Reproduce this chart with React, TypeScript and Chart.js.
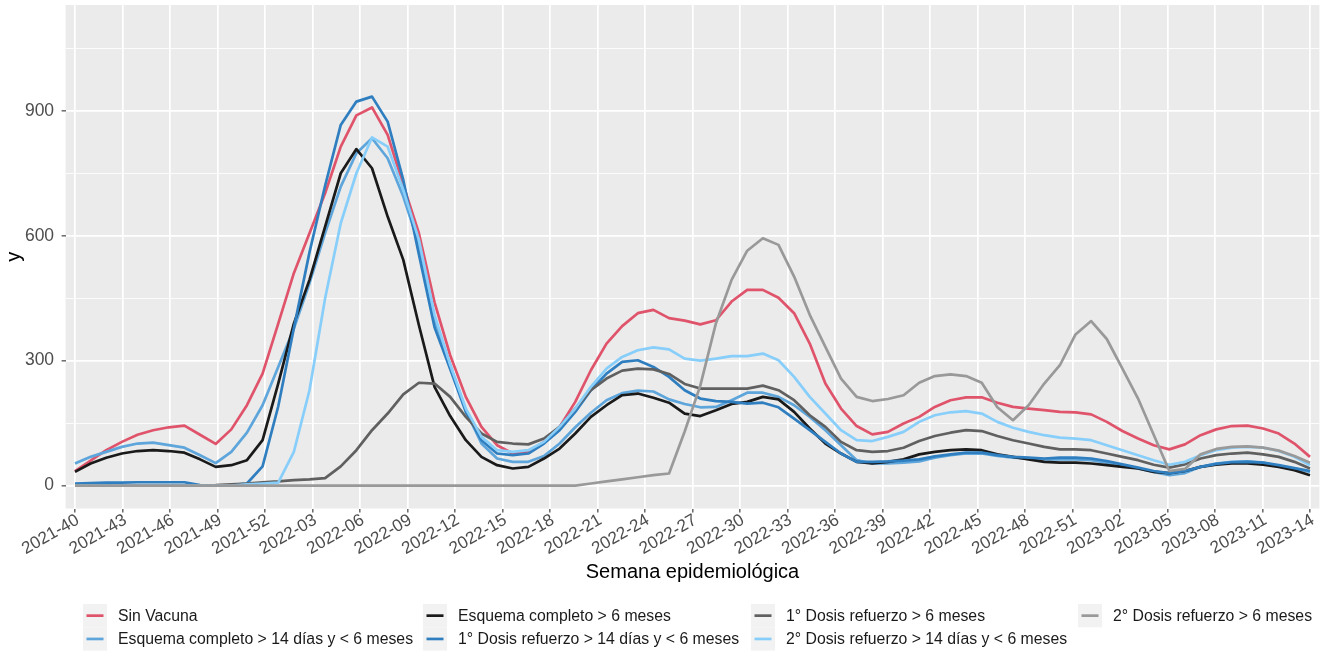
import React, { useEffect, useRef } from "react";
import { Chart, registerables } from "chart.js";

Chart.register(...registerables);

// ---- Data ----
const xTickLabels = [
  "2021-40", "2021-43", "2021-46", "2021-49", "2021-52", "2022-03", "2022-06",
  "2022-09", "2022-12", "2022-15", "2022-18", "2022-21", "2022-24", "2022-27",
  "2022-30", "2022-33", "2022-36", "2022-39", "2022-42", "2022-45", "2022-48",
  "2022-51", "2023-02", "2023-05", "2023-08", "2023-11", "2023-14",
];

const yMajorTicks = [0, 300, 600, 900];

const sinVacuna = [
  35, 60, 85, 105, 122, 133, 140, 144, 122, 100,
  135, 193, 269, 389, 510, 606, 702, 814, 889, 908,
  842, 722, 606, 440, 313, 213, 141, 97, 77, 81,
  105, 141, 201, 277, 341, 383, 414, 422, 402, 396,
  387, 397, 442, 470, 470, 451, 414, 341, 245, 185,
  143, 123, 129, 149, 165, 189, 205, 212, 212, 199,
  189, 185, 181, 177, 176, 171, 153, 131, 113, 97,
  87, 99, 121, 135, 143, 144, 137, 125, 101, 69,
];

const esquema14d = [
  53, 69, 81, 93, 101, 103, 97, 91, 73, 54,
  81, 127, 193, 285, 377, 486, 606, 718, 798, 834,
  786, 694, 580, 400, 290, 180, 101, 65, 57, 57,
  71, 101, 140, 175, 205, 222, 228, 226, 207, 196,
  188, 189, 205, 223, 223, 213, 193, 165, 133, 97,
  61, 53, 53, 55, 58, 67, 73, 77, 77, 71,
  67, 65, 63, 63, 63, 61, 55, 49, 41, 33,
  25, 30, 45, 53, 57, 58, 55, 47, 41, 33,
];

const esquema6m = [
  33, 53, 67, 77, 83, 85, 83, 79, 63, 45,
  49, 61, 109, 245, 389, 494, 622, 750, 808, 762,
  646, 542, 385, 237, 167, 109, 69, 49, 41, 45,
  65, 89, 125, 165, 193, 217, 221, 211, 199, 173,
  167, 181, 196, 201, 213, 207, 177, 137, 101, 77,
  57, 53, 57, 63, 75, 81, 85, 87, 85, 75,
  69, 63, 57, 55, 55, 53, 49, 45, 41, 33,
  30, 35, 45, 50, 53, 53, 50, 45, 37, 25,
];

const refuerzo1_14d = [
  5, 6, 7, 7, 8, 8, 8, 8, 1, 0,
  1, 5, 46, 190, 378, 560, 720, 866, 922, 934,
  874, 734, 555, 380, 280, 177, 109, 77, 73, 77,
  101, 133, 177, 229, 269, 297, 301, 285, 261, 229,
  209, 203, 201, 197, 199, 188, 161, 133, 105, 77,
  57, 57, 58, 60, 63, 70, 75, 79, 79, 73,
  69, 67, 65, 67, 67, 65, 59, 51, 43, 35,
  30, 35, 45, 52, 56, 57, 55, 49, 42, 35,
];

const refuerzo1_6m = [
  0, 0, 0, 0, 0, 0, 0, 0, 0, 1,
  3, 5, 8, 10, 13, 15, 18, 46, 85, 133,
  173, 219, 247, 245, 213, 165, 125, 105, 101, 99,
  113, 141, 185, 229, 257, 276, 281, 279, 268, 244,
  233, 233, 233, 233, 240, 229, 205, 169, 141, 105,
  85, 81, 83, 91, 107, 119, 127, 133, 131, 119,
  109, 101, 93, 87, 87, 85, 77, 69, 61, 50,
  43, 51, 65, 73, 77, 79, 75, 69, 57, 41,
];

const refuerzo2_14d = [
  0, 0, 0, 0, 0, 0, 0, 0, 0, 0,
  0, 3, 5, 7, 81, 229, 450, 630, 750, 836,
  814, 710, 590, 410, 290, 185, 117, 85, 81, 85,
  105, 141, 185, 237, 281, 309, 325, 332, 327, 305,
  300, 305, 311, 311, 317, 301, 261, 213, 173, 133,
  109, 107, 117, 129, 153, 169, 176, 179, 173, 153,
  139, 129, 121, 115, 113, 109, 97, 85, 73, 61,
  50, 57, 73, 85, 91, 93, 91, 83, 69, 49,
];

const refuerzo2_6m = [
  0, 0, 0, 0, 0, 0, 0, 0, 0, 0,
  0, 0, 0, 0, 0, 0, 0, 0, 0, 0,
  0, 0, 0, 0, 0, 0, 0, 0, 0, 0,
  0, 0, 0, 5, 10, 15, 20, 25, 29, 130,
  240, 390, 494, 564, 594, 578, 502, 410, 333, 257,
  213, 203, 208, 217, 247, 263, 267, 263, 247, 188,
  157, 193, 245, 289, 363, 395, 352, 281, 209, 122,
  35, 40, 75, 88, 93, 94, 91, 84, 71, 55,
];

const seriesNames = [
  "Sin Vacuna",
  "Esquema completo > 14 días y < 6 meses",
  "Esquema completo > 6 meses",
  "1° Dosis refuerzo > 14 días y < 6 meses",
  "1° Dosis refuerzo > 6 meses",
  "2° Dosis refuerzo > 14 días y < 6 meses",
  "2° Dosis refuerzo > 6 meses",
];

const seriesValues = [
  sinVacuna, esquema14d, esquema6m, refuerzo1_14d, refuerzo1_6m, refuerzo2_14d, refuerzo2_6m,
];

const seriesColors = [
  "#DF536B", "#5DA5DA", "#1A1A1A", "#2F7EC0", "#606060", "#87CEFA", "#999999",
];

// ---- Styling constants ----
const FONT = "'Liberation Sans', Arial, Helvetica, sans-serif";
const LINE_W = 2.7;
const nPoints = sinVacuna.length;
const xTickPositions = xTickLabels.map((_, k) => (k * (nPoints - 1)) / (xTickLabels.length - 1));
const yAllTicks = [0, 150, 300, 450, 600, 750, 900, 1050];

const panelBg = {
  id: "panelBg",
  beforeDraw(chart: any) {
    const { ctx, chartArea } = chart;
    ctx.save();
    ctx.fillStyle = "#FFFFFF";
    ctx.fillRect(0, 0, chart.width, chart.height);
    ctx.fillStyle = "#EBEBEB";
    ctx.fillRect(chartArea.left, chartArea.top, chartArea.right - chartArea.left, chartArea.bottom - chartArea.top);
    ctx.restore();
  },
};

const ggLegend = {
  id: "ggLegend",
  afterDraw(chart: any) {
    const ctx = chart.ctx;
    const colX = [83, 423, 751, 1078];
    const rowY = [604, 627.3];
    const keyW = 24;
    const keyH = 23.3;
    ctx.save();
    seriesNames.forEach((name, idx) => {
      const c = Math.floor(idx / 2);
      const r = idx % 2;
      const x = colX[c];
      const y = rowY[r];
      ctx.fillStyle = "#F2F2F2";
      ctx.fillRect(x, y, keyW, keyH);
      ctx.strokeStyle = seriesColors[idx];
      ctx.lineWidth = LINE_W;
      ctx.lineCap = "butt";
      ctx.beginPath();
      ctx.moveTo(x + 3.5, y + keyH / 2);
      ctx.lineTo(x + keyW - 3.5, y + keyH / 2);
      ctx.stroke();
      ctx.fillStyle = "#1A1A1A";
      ctx.font = `15.8px ${FONT}`;
      ctx.textBaseline = "middle";
      ctx.textAlign = "left";
      ctx.fillText(name, x + keyW + 11, y + keyH / 2 + 0.5);
    });
    ctx.restore();
  },
};

export default function App() {
  const ref = useRef<HTMLCanvasElement | null>(null);

  useEffect(() => {
    document.body.style.margin = "0";
    const canvas = ref.current;
    if (!canvas) return;

    const datasets = seriesValues.map((vals, idx) => ({
      label: seriesNames[idx],
      data: vals.map((y, i) => ({ x: i, y })),
      borderColor: seriesColors[idx],
      backgroundColor: seriesColors[idx],
      borderWidth: LINE_W,
      pointRadius: 0,
      pointHoverRadius: 0,
      tension: 0,
      fill: false,
      borderJoinStyle: "round" as const,
      borderCapStyle: "butt" as const,
      order: seriesValues.length - 1 - idx,
    }));

    const chart = new Chart(canvas, {
      type: "line",
      data: { datasets },
      plugins: [panelBg, ggLegend],
      options: {
        responsive: false,
        animation: false,
        devicePixelRatio: 1,
        layout: { padding: { left: 0, top: 5, right: 6.6, bottom: 63 } },
        plugins: {
          legend: { display: false },
          tooltip: { enabled: false },
        },
        scales: {
          x: {
            type: "linear",
            min: -0.6,
            max: nPoints - 1 + 0.6,
            afterBuildTicks: (scale: any) => {
              scale.ticks = xTickPositions.map((v) => ({ value: v }));
            },
            afterFit: (scale: any) => {
              scale.height = 79.5;
              scale.paddingLeft = 0;
              scale.paddingRight = 0;
            },
            border: { display: false },
            grid: {
              color: "#FFFFFF",
              lineWidth: 1.7,
              drawTicks: true,
              tickLength: 4,
              tickColor: "#333333",
              tickWidth: 1.1,
            },
            ticks: {
              autoSkip: false,
              maxTicksLimit: 100,
              maxRotation: 30,
              minRotation: 30,
              padding: 2,
              labelOffset: 3,
              color: "#4D4D4D",
              font: { family: FONT, size: 17.2, lineHeight: 0.6 },
              callback: (_v: any, index: number) => xTickLabels[index],
            },
            title: {
              display: true,
              text: "Semana epidemiológica",
              color: "#000000",
              font: { family: FONT, size: 20, lineHeight: 1.2 },
              padding: { top: 0, bottom: 4 },
            },
          },
          y: {
            type: "linear",
            min: -55,
            max: 1154,
            afterBuildTicks: (scale: any) => {
              scale.ticks = yAllTicks.map((v) => ({ value: v }));
            },
            afterFit: (scale: any) => {
              scale.width = 65.6;
              scale.paddingTop = 0;
              scale.paddingBottom = 0;
            },
            border: { display: false },
            grid: {
              color: "#FFFFFF",
              lineWidth: (ctx: any) => (yMajorTicks.includes(ctx.tick?.value) ? 1.7 : 0.85),
              drawTicks: true,
              tickLength: 4,
              tickColor: (ctx: any) => (yMajorTicks.includes(ctx.tick?.value) ? "#333333" : "rgba(0,0,0,0)"),
              tickWidth: 1.1,
            },
            ticks: {
              autoSkip: false,
              padding: 7.5,
              color: "#4D4D4D",
              font: { family: FONT, size: 17.5 },
              callback: (v: any) => (yMajorTicks.includes(Number(v)) ? String(v) : ""),
            },
            title: {
              display: true,
              text: "y",
              color: "#000000",
              font: { family: FONT, size: 20, lineHeight: 1.2 },
              padding: { top: 2, bottom: 0 },
            },
          },
        },
      } as any,
    });

    return () => chart.destroy();
  }, []);

  return (
    <canvas
      ref={ref}
      width={1326}
      height={651}
      style={{ display: "block", width: "1326px", height: "651px" }}
    />
  );
}
